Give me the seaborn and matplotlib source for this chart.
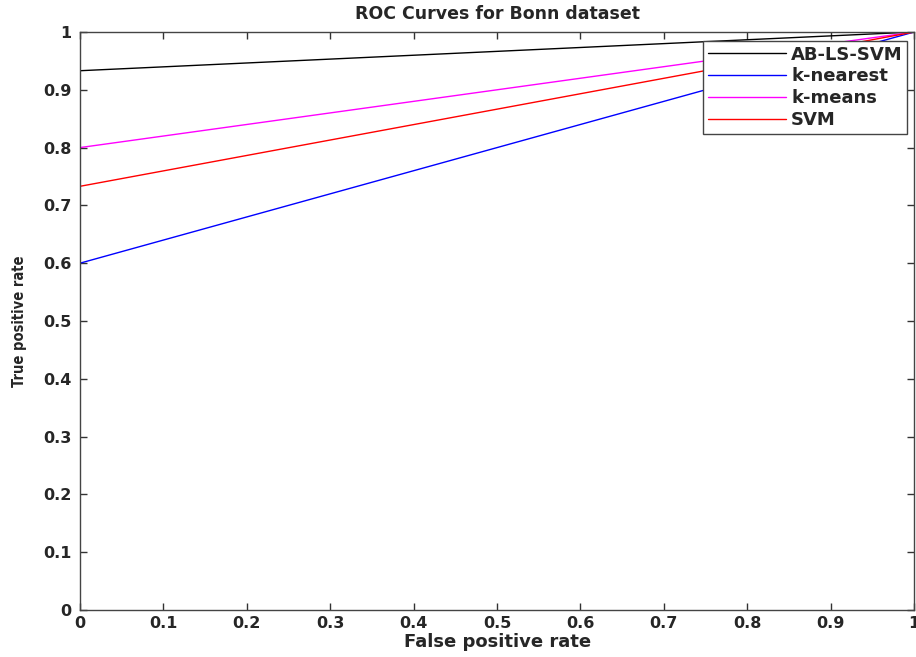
import matplotlib
matplotlib.use("Agg")
import matplotlib.pyplot as plt
import seaborn as sns
import pandas as pd
from matplotlib import font_manager

methods = ["AB-LS-SVM", "k-nearest", "k-means", "SVM"]
fpr_points = [0.0, 1.0]
tpr_start = [0.933, 0.600, 0.800, 0.733]
tpr_end = [1.0, 1.0, 1.0, 1.0]
colors = ["black", "blue", "magenta", "red"]
xticks = [0, 0.1, 0.2, 0.3, 0.4, 0.5, 0.6, 0.7, 0.8, 0.9, 1]
yticks = [0, 0.1, 0.2, 0.3, 0.4, 0.5, 0.6, 0.7, 0.8, 0.9, 1]

rows = []
for m, s, e in zip(methods, tpr_start, tpr_end):
    rows.append({"method": m, "fpr": fpr_points[0], "tpr": s})
    rows.append({"method": m, "fpr": fpr_points[1], "tpr": e})
df = pd.DataFrame(rows)

sns.set_theme(style="white")
plt.rcParams["font.family"] = ["DejaVu Sans"]

# look for a condensed bold face for the y label
cond = None
for f in font_manager.fontManager.ttflist:
    nm = f.name.lower()
    if ("condensed" in nm or "narrow" in nm or str(f.stretch) in ("condensed", "semi-condensed", "extra-condensed", "75", "62", "87")) \
            and ("bold" in str(f.weight) or str(f.weight) in ("700", "600")):
        cond = f
        break

fig = plt.figure(figsize=(9.16, 6.57), dpi=100)
ax = fig.add_axes([0.0873, 0.0716, 0.9107, 0.8797])

sns.lineplot(data=df, x="fpr", y="tpr", hue="method", hue_order=methods,
             palette=colors, sort=False, linewidth=1.0, ax=ax, legend=True)

ax.set_xlim(0, 1)
ax.set_ylim(0, 1)
ax.set_xticks(xticks)
ax.set_yticks(yticks)
ax.set_xticklabels([f"{t:g}" for t in xticks], fontsize=11.5, fontweight="bold", family="DejaVu Sans")
ax.set_yticklabels([f"{t:g}" for t in yticks], fontsize=11.5, fontweight="bold", family="DejaVu Sans")
ax.tick_params(axis="x", pad=4)
ax.tick_params(axis="y", pad=6)
ax.tick_params(direction="in", length=5, width=1, color="#333333", top=True, right=True,
               bottom=True, left=True)
for sp in ax.spines.values():
    sp.set_visible(True)
    sp.set_color("#444444")
    sp.set_linewidth(1.0)

ax.set_xlabel("False positive rate", fontsize=13, fontweight="bold", family="DejaVu Sans", labelpad=2)
if cond is not None:
    fp = font_manager.FontProperties(fname=cond.fname, size=10.5)
    ax.set_ylabel("True positive rate", fontproperties=fp, labelpad=12)
else:
    ax.set_ylabel("True positive rate", fontsize=11.5, fontweight="bold", family="Liberation Sans", labelpad=12)
ax.set_title("ROC Curves for Bonn dataset", fontsize=12.5, fontweight="bold", family="DejaVu Sans", pad=9)

leg = ax.legend(loc="upper right", bbox_to_anchor=(0.9916, 0.9844), borderaxespad=0,
                frameon=True, fancybox=False,
                edgecolor="#444444", framealpha=1, prop={"weight": "bold", "size": 13, "family": "DejaVu Sans"},
                handlelength=4.3, borderpad=0.25, labelspacing=0.22, handletextpad=0.3)
leg.get_frame().set_linewidth(1.0)
for line in leg.get_lines():
    line.set_linewidth(1.0)

fig.savefig("out.png", dpi=100)
